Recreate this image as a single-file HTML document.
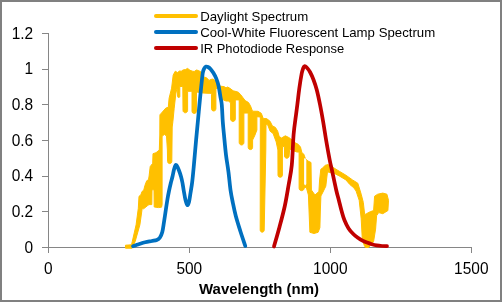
<!DOCTYPE html>
<html><head><meta charset="utf-8"><style>
html,body{margin:0;padding:0;background:#fff;}
svg{display:block;will-change:transform;}
text{font-family:"Liberation Sans",sans-serif;fill:#000;}
</style></head><body>
<svg width="502" height="302" viewBox="0 0 502 302">
<rect x="0" y="0" width="502" height="302" fill="#fff"/>
<rect x="1" y="1" width="500" height="300" fill="none" stroke="#808080" stroke-width="2"/>
<g fill="#868686" shape-rendering="crispEdges">
<rect x="48" y="33" width="1" height="220"/>
<rect x="42" y="247" width="430" height="1"/>
<rect x="42" y="247" width="7" height="1"/><rect x="42" y="211" width="7" height="1"/><rect x="42" y="176" width="7" height="1"/><rect x="42" y="140" width="7" height="1"/><rect x="42" y="104" width="7" height="1"/><rect x="42" y="69" width="7" height="1"/><rect x="42" y="33" width="7" height="1"/><rect x="48" y="247" width="1" height="6"/><rect x="189" y="247" width="1" height="6"/><rect x="330" y="247" width="1" height="6"/><rect x="471" y="247" width="1" height="6"/></g>
<g font-size="15.7"><text x="24.6" y="252.6" textLength="8.6" lengthAdjust="spacingAndGlyphs">0</text><text x="11.7" y="216.9" textLength="21.5" lengthAdjust="spacingAndGlyphs">0.2</text><text x="11.7" y="181.3" textLength="21.5" lengthAdjust="spacingAndGlyphs">0.4</text><text x="11.7" y="145.6" textLength="21.5" lengthAdjust="spacingAndGlyphs">0.6</text><text x="11.7" y="109.9" textLength="21.5" lengthAdjust="spacingAndGlyphs">0.8</text><text x="24.6" y="74.3" textLength="8.6" lengthAdjust="spacingAndGlyphs">1</text><text x="11.7" y="38.6" textLength="21.5" lengthAdjust="spacingAndGlyphs">1.2</text><text x="44.0" y="274" textLength="8.6" lengthAdjust="spacingAndGlyphs">0</text><text x="176.4" y="274" textLength="25.8" lengthAdjust="spacingAndGlyphs">500</text><text x="313.1" y="274" textLength="34.4" lengthAdjust="spacingAndGlyphs">1000</text><text x="454.1" y="274" textLength="34.4" lengthAdjust="spacingAndGlyphs">1500</text></g>
<text x="199" y="293.5" font-size="15.5" font-weight="bold" textLength="120" lengthAdjust="spacingAndGlyphs">Wavelength (nm)</text>
<g fill="#FFC000" stroke="#FFC000" stroke-width="1" stroke-linejoin="round"><polygon points="125.5,245.2 131.5,244.8 132.3,241.4 136.1,224.8 138.3,208.3 139.0,196.3 140.8,195.0 142.0,191.5 143.7,190.3 144.9,185.5 146.7,180.8 148.5,179.6 149.1,176.0 150.2,166.6 152.7,163.3 153.0,153.7 156.0,152.7 159.3,150.0 159.8,135.0 159.9,116.0 160.0,114.7 165.8,108.1 168.3,107.3 169.1,98.2 171.6,88.2 173.2,75.0 175.3,71.2 177.5,72.6 179.5,71.0 181.3,71.2 183.0,70.0 185.5,69.5 187.6,68.4 190.0,70.3 192.5,71.2 194.2,71.5 196.5,70.0 198.6,70.6 201.0,72.0 203.5,76.9 206.0,77.6 207.5,78.6 209.0,80.5 211.0,79.4 213.0,79.0 215.0,80.6 217.0,84.0 220.6,86.2 224.0,86.6 226.0,87.9 227.6,87.0 229.9,88.3 233.2,90.8 236.0,91.5 238.3,92.2 240.6,94.6 242.6,97.2 245.2,100.6 248.5,102.5 250.5,105.9 252.5,111.2 258.0,111.3 261.3,113.3 263.3,118.6 266.6,118.6 269.2,120.6 270.1,121.3 272.4,125.9 275.4,127.4 277.7,131.2 279.2,136.5 281.5,138.0 285.3,135.8 288.4,137.3 290.6,138.7 294.8,142.6 298.2,144.3 300.5,147.1 301.9,152.7 303.7,154.0 305.6,159.1 308.0,161.0 311.0,162.5 311.4,190.0 315.0,195.0 318.9,191.5 319.6,180.0 320.8,169.3 322.4,168.1 325.3,165.3 328.0,164.6 334.0,168.0 339.2,171.2 345.9,175.2 352.5,179.9 357.8,183.2 361.2,194.2 363.3,202.4 364.7,214.7 366.4,213.7 370.5,211.6 373.6,210.6 374.6,196.2 377.7,194.2 382.8,193.1 386.9,194.2 388.5,200.3 387.9,210.6 382.8,213.7 378.7,212.6 376.6,215.7 375.6,229.1 373.6,241.4 370.5,245.5 368.4,247.5 365.5,247.5 364.3,245.5 362.3,239.3 361.2,218.8 359.2,200.3 356.1,191.1 353.8,187.8 349.8,184.5 345.9,179.9 339.2,175.9 334.0,173.2 330.0,172.5 328.0,172.0 327.5,171.5 325.8,186.2 323.0,192.0 320.9,196.0 320.3,212.0 319.9,227.7 318.1,232.3 314.0,233.5 309.9,232.3 308.4,195.0 306.2,187.0 304.1,188.2 303.9,189.2 303.4,190.0 302.6,190.5 301.6,190.7 300.6,190.5 299.8,190.0 299.3,189.2 299.1,188.2 299.1,152.0 297.0,152.0 294.0,151.0 291.0,149.0 289.6,150.0 289.1,156.0 288.9,156.9 288.4,157.6 287.7,158.1 286.8,158.3 285.9,158.1 285.2,157.6 284.7,156.9 284.5,156.0 284.5,150.0 284.3,146.4 282.6,146.4 282.4,150.0 282.4,175.1 282.2,175.9 281.8,176.7 281.0,177.1 280.2,177.3 279.4,177.1 278.6,176.7 278.2,175.9 278.0,175.1 277.9,150.0 276.2,141.9 273.1,133.5 270.1,131.2 267.8,125.1 266.0,124.0 265.8,150.0 264.2,230.2 264.0,231.0 263.6,231.6 263.0,232.0 262.2,232.2 261.4,232.0 260.8,231.6 260.4,231.0 260.2,230.2 260.3,150.0 260.3,117.0 256.9,116.7 256.9,130.0 254.7,135.7 252.6,140.0 252.6,147.4 252.4,148.2 252.0,149.0 251.2,149.4 250.4,149.6 249.6,149.4 248.8,149.0 248.4,148.2 248.2,147.4 248.2,113.0 243.9,113.1 243.9,142.6 243.7,143.5 243.2,144.3 242.4,144.8 241.6,145.0 240.7,144.8 239.9,144.3 239.4,143.5 239.2,142.6 239.2,99.9 235.3,99.9 235.3,119.1 235.1,120.0 234.6,120.8 233.8,121.3 232.9,121.5 232.1,121.3 231.3,120.8 230.8,120.0 230.6,119.1 230.6,103.0 228.6,101.0 226.0,101.0 224.0,100.2 222.0,99.0 218.9,88.0 215.9,88.5 215.9,108.8 215.7,109.6 215.3,110.4 214.5,110.8 213.7,111.0 212.9,110.8 212.1,110.4 211.7,109.6 211.5,108.8 211.5,94.4 211.0,93.3 208.0,93.3 203.0,93.0 196.5,92.0 196.4,111.3 196.2,112.1 195.8,112.9 195.0,113.3 194.2,113.5 193.4,113.3 192.6,112.9 192.2,112.1 192.0,111.3 192.0,91.3 187.6,91.3 187.6,110.5 187.4,111.4 186.9,112.1 186.2,112.6 185.3,112.8 184.4,112.6 183.7,112.1 183.2,111.4 183.0,110.5 182.8,86.5 179.8,86.5 179.8,96.4 179.7,96.8 179.5,97.2 179.1,97.4 178.7,97.5 178.3,97.4 177.9,97.2 177.7,96.8 177.6,96.4 177.6,88.0 176.8,89.0 175.8,94.0 174.2,108.2 172.9,121.5 172.2,127.0 171.8,161.5 171.6,162.3 171.2,163.0 170.5,163.4 169.7,163.6 168.9,163.4 168.2,163.0 167.8,162.3 167.6,161.5 167.4,150.0 166.5,136.0 164.5,134.5 162.1,136.0 162.1,204.7 161.5,207.2 158.5,207.6 154.2,207.0 154.0,190.0 153.0,189.5 152.0,190.0 151.8,204.6 149.0,204.6 147.7,205.5 143.6,208.8 142.2,208.3 139.9,224.8 135.2,241.4 132.0,248.2 125.5,248.2"/></g>
<g stroke="#FFC000" stroke-width="4" stroke-linecap="round"></g>
<polygon fill="#fff" points="304.1,158.5 305.3,158 306.3,160.5 306.3,184 305.2,185.5 304.1,184"/>
<path d="M133.00,246.20 C133.97,245.87 136.77,244.87 138.80,244.20 C140.83,243.53 143.03,242.73 145.20,242.20 C147.37,241.67 149.87,241.37 151.80,241.00 C153.73,240.63 155.47,240.53 156.80,240.00 C158.13,239.47 158.88,239.13 159.80,237.80 C160.72,236.47 161.60,234.63 162.30,232.00 C163.00,229.37 163.42,225.67 164.00,222.00 C164.58,218.33 165.22,213.83 165.80,210.00 C166.38,206.17 166.97,202.17 167.50,199.00 C168.03,195.83 168.45,193.67 169.00,191.00 C169.55,188.33 170.22,185.42 170.80,183.00 C171.38,180.58 171.97,178.75 172.50,176.50 C173.03,174.25 173.50,171.38 174.00,169.50 C174.50,167.62 175.00,165.78 175.50,165.20 C176.00,164.62 176.42,165.12 177.00,166.00 C177.58,166.88 178.33,168.75 179.00,170.50 C179.67,172.25 180.42,174.42 181.00,176.50 C181.58,178.58 182.03,180.58 182.50,183.00 C182.97,185.42 183.30,188.17 183.80,191.00 C184.30,193.83 184.92,197.67 185.50,200.00 C186.08,202.33 186.72,204.67 187.30,205.00 C187.88,205.33 188.47,204.00 189.00,202.00 C189.53,200.00 189.97,196.33 190.50,193.00 C191.03,189.67 191.63,186.67 192.20,182.00 C192.77,177.33 193.25,172.00 193.90,165.00 C194.55,158.00 195.42,147.50 196.10,140.00 C196.78,132.50 197.45,125.83 198.00,120.00 C198.55,114.17 198.87,110.53 199.40,105.00 C199.93,99.47 200.63,92.17 201.20,86.80 C201.77,81.43 202.28,75.88 202.80,72.80 C203.32,69.72 203.75,69.33 204.30,68.30 C204.85,67.27 205.48,66.82 206.10,66.60 C206.72,66.38 207.27,66.60 208.00,67.00 C208.73,67.40 209.62,68.03 210.50,69.00 C211.38,69.97 212.33,71.20 213.30,72.80 C214.27,74.40 215.42,76.40 216.30,78.60 C217.18,80.80 217.90,82.88 218.60,86.00 C219.30,89.12 219.97,94.13 220.50,97.30 C221.03,100.47 221.42,100.88 221.80,105.00 C222.18,109.12 222.43,117.00 222.80,122.00 C223.17,127.00 223.47,129.52 224.00,135.00 C224.53,140.48 225.25,148.70 226.00,154.90 C226.75,161.10 227.75,166.35 228.50,172.20 C229.25,178.05 229.77,184.87 230.50,190.00 C231.23,195.13 232.02,198.67 232.90,203.00 C233.78,207.33 234.57,211.33 235.80,216.00 C237.03,220.67 238.72,226.00 240.30,231.00 C241.88,236.00 244.47,243.50 245.30,246.00" fill="none" stroke="#0070C0" stroke-width="3.75" stroke-linejoin="round" stroke-linecap="round"/>
<path d="M274.00,246.50 C274.92,243.25 277.70,233.75 279.50,227.00 C281.30,220.25 283.28,213.00 284.80,206.00 C286.32,199.00 287.43,191.83 288.60,185.00 C289.77,178.17 290.97,173.38 291.80,165.00 C292.63,156.62 292.90,143.03 293.60,134.70 C294.30,126.37 295.38,119.95 296.00,115.00 C296.62,110.05 296.75,109.42 297.30,105.00 C297.85,100.58 298.58,93.67 299.30,88.50 C300.02,83.33 300.97,77.33 301.60,74.00 C302.23,70.67 302.62,69.78 303.10,68.50 C303.58,67.22 303.93,66.50 304.50,66.30 C305.07,66.10 305.58,66.35 306.50,67.30 C307.42,68.25 308.82,69.88 310.00,72.00 C311.18,74.12 312.47,77.00 313.60,80.00 C314.73,83.00 315.72,85.83 316.80,90.00 C317.88,94.17 319.03,99.67 320.10,105.00 C321.17,110.33 322.20,116.17 323.20,122.00 C324.20,127.83 325.02,133.67 326.10,140.00 C327.18,146.33 328.73,155.00 329.70,160.00 C330.67,165.00 330.82,165.00 331.90,170.00 C332.98,175.00 335.05,185.00 336.20,190.00 C337.35,195.00 337.90,196.50 338.80,200.00 C339.70,203.50 340.67,207.67 341.60,211.00 C342.53,214.33 343.23,217.10 344.40,220.00 C345.57,222.90 347.12,226.07 348.60,228.40 C350.08,230.73 351.75,232.45 353.30,234.00 C354.85,235.55 356.37,236.60 357.90,237.70 C359.43,238.80 360.97,239.78 362.50,240.60 C364.03,241.42 365.55,242.00 367.10,242.60 C368.65,243.20 370.20,243.73 371.80,244.20 C373.40,244.67 375.00,245.10 376.70,245.40 C378.40,245.70 380.28,245.87 382.00,246.00 C383.72,246.13 386.17,246.17 387.00,246.20" fill="none" stroke="#C00000" stroke-width="3.75" stroke-linejoin="round" stroke-linecap="round"/>
<g stroke-width="4" stroke-linecap="round">
<line x1="156" y1="16" x2="196" y2="16" stroke="#FFC000"/>
<line x1="156" y1="32" x2="196" y2="32" stroke="#0070C0"/>
<line x1="156" y1="48" x2="196" y2="48" stroke="#C00000"/>
</g>
<g font-size="12.2">
<text x="200.2" y="21" textLength="108" lengthAdjust="spacingAndGlyphs">Daylight Spectrum</text>
<text x="200.2" y="37" textLength="235" lengthAdjust="spacingAndGlyphs">Cool-White Fluorescent Lamp Spectrum</text>
<text x="200.2" y="53.2" textLength="144" lengthAdjust="spacingAndGlyphs">IR Photodiode Response</text>
</g>
</svg>
</body></html>
